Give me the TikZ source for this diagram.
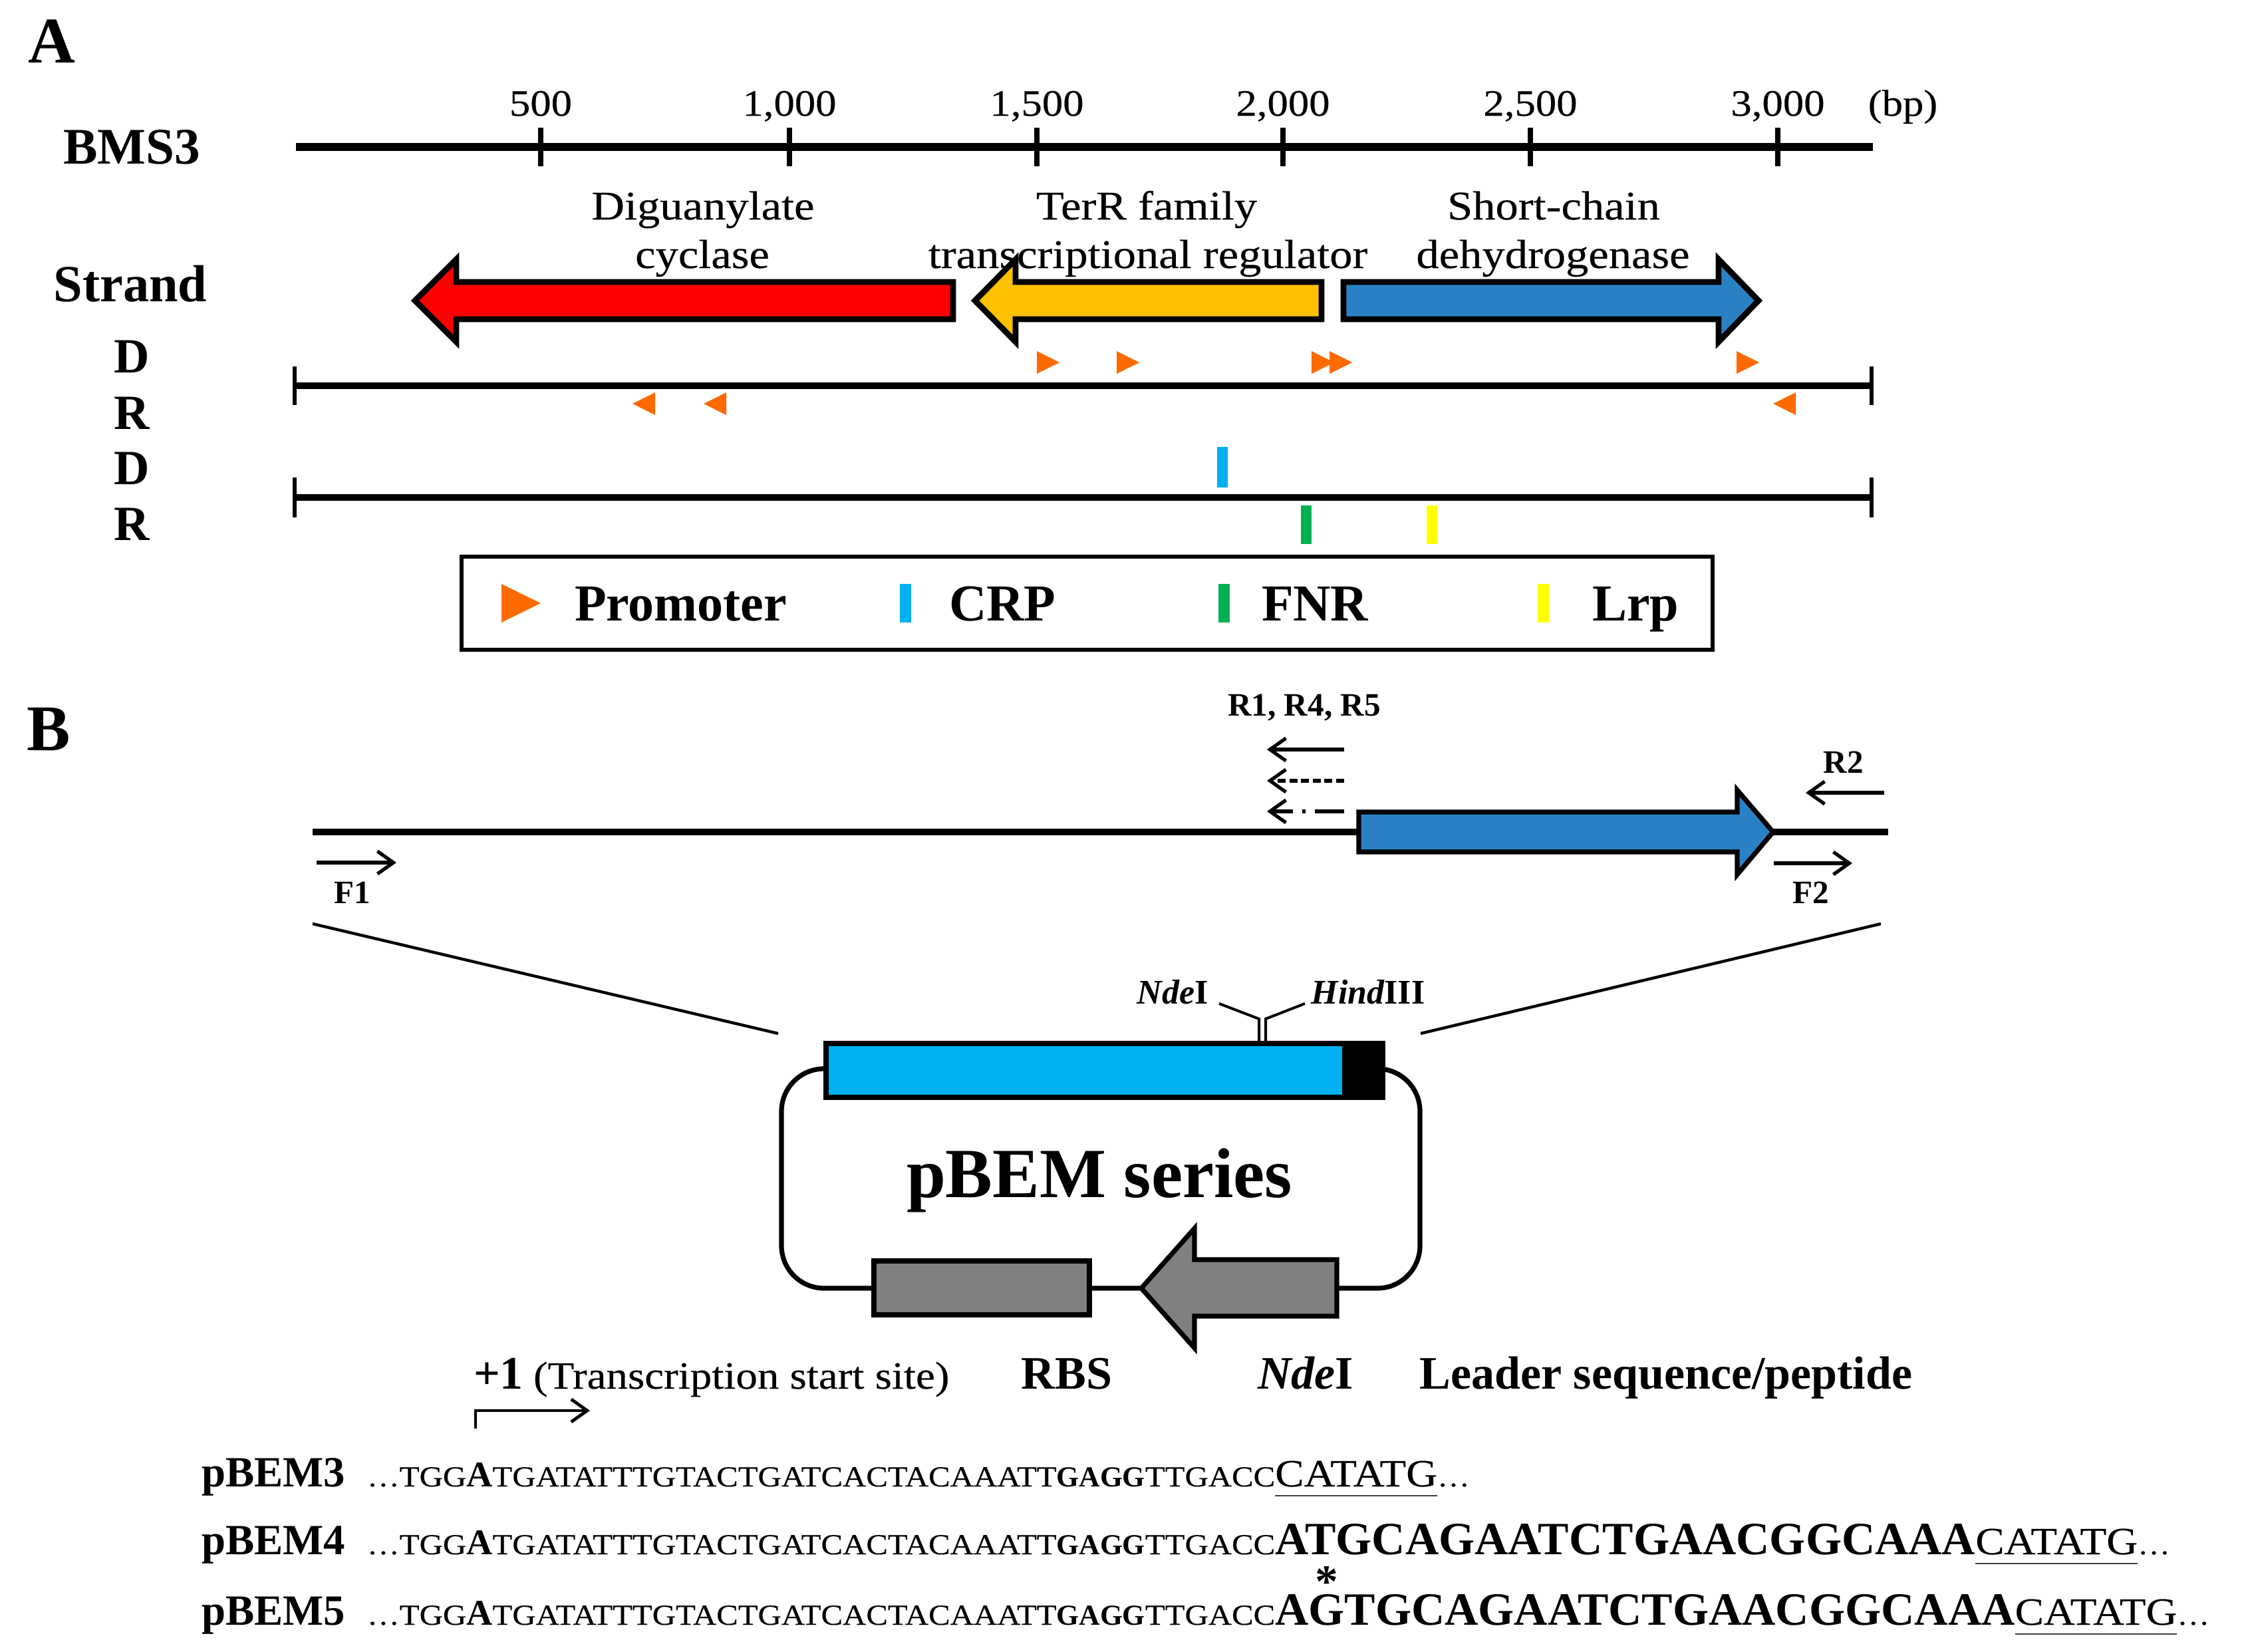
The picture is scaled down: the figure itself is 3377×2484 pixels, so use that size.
\documentclass[tikz,border=0pt]{standalone}
\usepackage{fontspec}
\setmainfont{Liberation Serif}
\newfontfamily\regfont{Liberation Serif}[FakeStretch=1.12,FakeBold=0.3]
\usetikzlibrary{arrows.meta}
\definecolor{genered}{HTML}{FF0000}
\definecolor{geneyel}{HTML}{FFC000}
\definecolor{geneblue}{HTML}{2A82C4}
\definecolor{promo}{HTML}{FF6A00}
\definecolor{crpc}{HTML}{00B0F0}
\definecolor{fnrc}{HTML}{00B050}
\definecolor{lrpc}{HTML}{FFFF00}
\definecolor{plblue}{HTML}{00B0F0}
\definecolor{grayfill}{HTML}{808080}
\newcommand{\fsz}[1]{\fontsize{#1}{#1}\selectfont}
\newcommand{\seqbase}{{\regfont\fsz{10.9}…TGG}{\bfseries\fsz{13.6}A}{\regfont\fsz{10.9}TGATATTTGTACTGATCACTACAAATT}{\bfseries\fsz{10.9}GAGG}{\regfont\fsz{10.9}TTGACC}}
\tikzset{
  every node/.style={inner sep=0pt, outer sep=0pt},
  gene/.style={draw=black, line width=2.2pt, line join=miter},
  axisline/.style={line width=2.5pt},
  tickmark/.style={line width=2.2pt},
  endtick/.style={line width=1.6pt},
  primer/.style={line width=1.3pt, -{Straight Barb[length=6pt,width=8.5pt]}},
  panel/.style={anchor=base, font=\bfseries\fsz{24.5}},
  strandlbl/.style={anchor=base, font=\bfseries\fsz{18.5}},
  genelbl/.style={anchor=base, font=\regfont\fsz{15.3}},
  legendtxt/.style={anchor=base west, font=\bfseries\fsz{19.5}},
  primerlbl/.style={anchor=base, font=\bfseries\fsz{12.3}},
  botlbl/.style={anchor=base, font=\bfseries\fsz{17.5}},
  seqlbl/.style={anchor=base west, font=\bfseries\fsz{16.2}},
  leader/.style={anchor=base west, font=\bfseries\fsz{17.4}},
  ndesite/.style={anchor=base west, font=\regfont\fsz{14.5}},
  dots/.style={anchor=base west, font=\regfont\fsz{10.9}},
  uline/.style={line width=0.7pt, draw=black!75},
}
\begin{document}
\begin{tikzpicture}[x=0.25pt,y=-0.25pt]
\useasboundingbox (0,0) rectangle (3377,2484);

%%%%%%%% Panel A
\node[panel] (lblA) at (78,94) {A};
\node[anchor=base, font=\bfseries\fsz{19.3}] (bms) at (198,246) {BMS3};
\coordinate (s0) at (445,221); \coordinate (s1) at (2816,221);
\draw[line width=3pt] (s0) -- (s1);
\foreach \x/\t [count=\i] in {813/500, 1187/{1,000}, 1559/{1,500}, 1929/{2,000}, 2301/{2,500}, 2673/{3,000}} {
  \draw[tickmark] (\x,192) -- (\x,250);
  \node[anchor=base, font=\regfont\fsz{14}] (tl\i) at (\x,174) {\t};
}
\node[anchor=base, font=\regfont\fsz{14}] (bp) at (2861,174) {(bp)};

% gene labels
\node[genelbl] (g1a) at (1057,330) {Diguanylate};
\node[genelbl] (g1b) at (1056,403) {cyclase};
\node[genelbl] (g2a) at (1724,330) {TerR family};
\node[genelbl] (g2b) at (1726,403) {transcriptional regulator};
\node[genelbl] (g3a) at (2336,330) {Short-chain};
\node[genelbl] (g3b) at (2335,403) {dehydrogenase};

% gene arrows
\draw[gene, fill=genered] (624,452) -- (686,390) -- (686,424) -- (1433,424) -- (1433,480) -- (686,480) -- (686,514) -- cycle;
\draw[gene, fill=geneyel] (1466,452) -- (1527,390) -- (1527,424) -- (1987,424) -- (1987,480) -- (1527,480) -- (1527,514) -- cycle;
\draw[gene, fill=geneblue] (2020,424) -- (2584,424) -- (2584,390) -- (2644,452) -- (2584,514) -- (2584,480) -- (2020,480) -- cycle;

% strand labels
\node[anchor=base, font=\bfseries\fsz{19.6}] (strand) at (196,453) {Strand};
\node[strandlbl] (d1) at (198,560) {D};
\node[strandlbl] (r1) at (198,645) {R};
\node[strandlbl] (d2) at (198,728) {D};
\node[strandlbl] (r2) at (198,812) {R};

% promoter line
\draw[axisline] (443,580) -- (2814,580);
\draw[endtick] (443,551) -- (443,609);
\draw[endtick] (2814,551) -- (2814,609);
\foreach \L in {1559,1679,1972,1999,2611}
  \fill[promo] (\L,528) -- (\L+34,545) -- (\L,562) -- cycle;
\foreach \R in {985,1092,2700}
  \fill[promo] (\R,590) -- (\R-34,607) -- (\R,624) -- cycle;

% TF line
\draw[axisline] (443,748) -- (2814,748);
\draw[endtick] (443,718) -- (443,778);
\draw[endtick] (2814,718) -- (2814,778);
\fill[crpc] (1830,672) rectangle (1846,733);
\fill[fnrc] (1956,760) rectangle (1972,818);
\fill[lrpc] (2145,760) rectangle (2161,818);

% legend
\draw[line width=1.3pt] (694,837) rectangle (2575,977);
\fill[promo] (754,878) -- (813,907) -- (754,936) -- cycle;
\node[legendtxt] (lgP) at (864,933) {Promoter};
\fill[crpc] (1353,878) rectangle (1370,936);
\node[legendtxt] (lgC) at (1427,933) {CRP};
\fill[fnrc] (1832,878) rectangle (1849,936);
\node[legendtxt] (lgF) at (1897,933) {FNR};
\fill[lrpc] (2312,878) rectangle (2329,936);
\node[legendtxt] (lgL) at (2394,933) {Lrp};

%%%%%%%% Panel B
\node[panel] (lblB) at (73,1128) {B};
\draw[axisline] (470,1251) -- (2839,1251);
\draw[line width=1.8pt, fill=geneblue, line join=miter] (2043,1221) -- (2612,1221) -- (2612,1188) -- (2666,1251) -- (2612,1315) -- (2612,1281) -- (2043,1281) -- cycle;

% primers
\node[primerlbl] (rlab) at (1961,1076) {R1, R4, R5};
\draw[primer] (2021,1127) -- (1905,1127);
\draw[primer, dash pattern=on 3pt off 1.4pt] (2021,1174) -- (1905,1174);
\draw[primer, dash pattern=on 11pt off 3.5pt on 1.2pt off 3.5pt] (2021,1220) -- (1905,1220);
\node[primerlbl] (r2lab) at (2772,1162) {R2};
\draw[primer] (2833,1192) -- (2715,1192);
\draw[primer] (2667,1298) -- (2785,1298);
\node[primerlbl] (f2lab) at (2723,1358) {F2};
\draw[primer] (476,1297) -- (596,1297);
\node[primerlbl] (f1lab) at (530,1358) {F1};

% zoom lines
\draw[line width=1.1pt] (470,1389) -- (1170,1554);
\draw[line width=1.1pt] (2828,1389) -- (2136,1554);

% plasmid
\draw[line width=1.8pt, rounded corners=16pt] (1240,1607) -- (1175,1607) -- (1175,1937) -- (2135,1937) -- (2135,1607) -- (2080,1607);
\draw[line width=1.8pt, fill=plblue] (1242,1569) rectangle (2079,1650);
\fill[black] (2018,1569) rectangle (2079,1650);
\draw[line width=1.8pt, fill=grayfill] (1314,1896) rectangle (1638,1977);
\draw[line width=1.8pt, fill=grayfill, line join=miter] (1716,1937) -- (1796,1847) -- (1796,1894) -- (2010,1894) -- (2010,1979) -- (1796,1979) -- (1796,2027) -- cycle;
\node[anchor=base, font=\bfseries\fsz{26.5}] (pbem) at (1653,1800) {pBEM series};

% restriction sites
\draw[line width=1pt] (1833,1509) -- (1893,1532) -- (1893,1566);
\draw[line width=1pt] (1962,1509) -- (1903,1532) -- (1903,1566);
\node[anchor=base, font=\bfseries\fsz{13}] (nde1) at (1763,1509) {\itshape Nde\upshape I};
\node[anchor=base, font=\bfseries\fsz{13}] (hind) at (2057,1509) {\itshape Hind\upshape III};

% bottom labels
\node[anchor=base west, font=\bfseries\fsz{17.5}] (plus1) at (712,2088) {+1};
\node[anchor=base west, font=\regfont\fsz{14.5}] (tss) at (802,2088) {(Transcription start site)};
\node[botlbl] (rbs) at (1604,2088) {RBS};
\node[botlbl] (nde2) at (1963,2088) {\itshape Nde\upshape I};
\node[botlbl] (lead) at (2505,2088) {Leader sequence/peptide};
\draw[line width=1.2pt, -{Straight Barb[length=6pt,width=8.5pt]}] (715,2148) -- (715,2121) -- (887,2121);

% sequences
\node[seqlbl] (p3) at (303,2235) {pBEM3};
\node[anchor=base west] (q3) at (552,2235) {\seqbase};
\node[ndesite] (c3) at (q3.base east) {CATATG};
\node[dots] (e3) at (c3.base east) {…};
\draw[uline] ([yshift=-3.5pt]c3.base west) -- ([yshift=-3.5pt]c3.base east);

\node[seqlbl] (p4) at (303,2337) {pBEM4};
\node[anchor=base west] (q4) at (552,2337) {\seqbase};
\node[leader] (l4) at (q4.base east) {ATGCAGAATCTGAACGGCAAA};
\node[ndesite] (c4) at (l4.base east) {CATATG};
\node[dots] (e4) at (c4.base east) {…};
\draw[uline] ([yshift=-3.5pt]c4.base west) -- ([yshift=-3.5pt]c4.base east);

\node[seqlbl] (p5) at (303,2443) {pBEM5};
\node[anchor=base west] (q5) at (552,2443) {\seqbase};
\node[leader] (l5a) at (q5.base east) {A};
\node[leader] (l5g) at (l5a.base east) {G};
\node[leader] (l5c) at (l5g.base east) {TGCAGAATCTGAACGGCAAA};
\node[ndesite] (c5) at (l5c.base east) {CATATG};
\node[dots] (e5) at (c5.base east) {…};
\draw[uline] ([yshift=-3.5pt]c5.base west) -- ([yshift=-3.5pt]c5.base east);
\node[anchor=base, font=\bfseries\fsz{17.4}] (star) at ([yshift=16.5pt]l5g.base) {\raisebox{-6pt}[5.2pt][0pt]{*}};
\end{tikzpicture}
\end{document}
